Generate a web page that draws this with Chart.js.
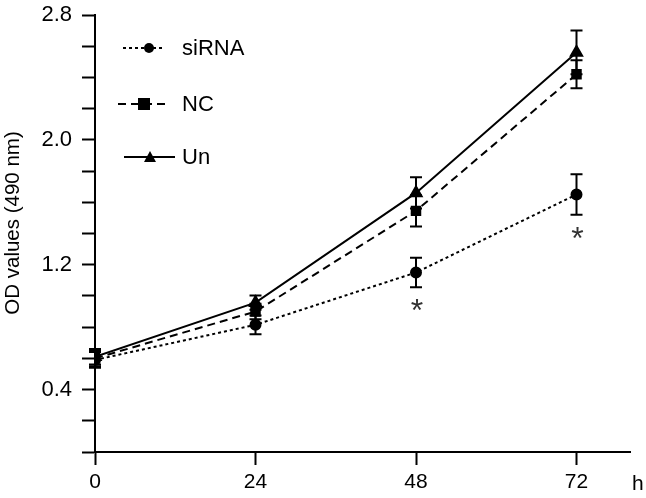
<!DOCTYPE html>
<html>
<head>
<meta charset="utf-8">
<script src="https://cdn.jsdelivr.net/npm/chart.js@4.4.1/dist/chart.umd.min.js"></script>
<style>
  html, body { margin: 0; padding: 0; background: #fff; }
  #wrap { width: 646px; height: 498px; }
</style>
</head>
<body>
<div id="wrap"><canvas id="myChart" width="646" height="498"></canvas></div>
<script>
// data
var hours = [0, 24, 48, 72];
var sirna = [0.59, 0.815, 1.15, 1.65];
var sirnaErr = [0.05, 0.06, 0.095, 0.13];
var nc = [0.60, 0.90, 1.545, 2.42];
var ncErr = [0.05, 0.05, 0.10, 0.09];
var un = [0.61, 0.957, 1.66, 2.56];
var unErr = [0.05, 0.045, 0.10, 0.14];
var yLabels = [0.4, 1.2, 2.0, 2.8];
var starHours = [48, 72];

function pts(vals) {
    var out = [];
    for (var i = 0; i < hours.length; i++) {
        out.push({x: hours[i], y: vals[i]});
    }
    return out;
}

var FONT = 'Liberation Sans, Arial, sans-serif';

// error bars, legend, asterisks, axis title, "h"
var extras = {
    id: 'extras',
    afterDatasetsDraw: function(chart) {
        var ctx = chart.ctx;
        var xs = chart.scales.x, ys = chart.scales.y;
        ctx.save();
        ctx.strokeStyle = '#000';
        ctx.lineWidth = 2;
        ctx.setLineDash([]);
        var errs = [sirnaErr, ncErr, unErr];
        chart.data.datasets.forEach(function(ds, d) {
            for (var i = 0; i < hours.length; i++) {
                var px = xs.getPixelForValue(hours[i]);
                var top = ys.getPixelForValue(ds.data[i].y + errs[d][i]);
                var bot = ys.getPixelForValue(ds.data[i].y - errs[d][i]);
                ctx.beginPath();
                ctx.moveTo(px, top); ctx.lineTo(px, bot);
                ctx.moveTo(px - 6, top); ctx.lineTo(px + 6, top);
                ctx.moveTo(px - 6, bot); ctx.lineTo(px + 6, bot);
                ctx.stroke();
            }
        });

        // asterisks under siRNA
        ctx.fillStyle = '#333';
        ctx.font = '32px ' + FONT;
        ctx.textAlign = 'center';
        ctx.textBaseline = 'middle';
        starHours.forEach(function(h) {
            var i = hours.indexOf(h);
            var px = xs.getPixelForValue(h);
            var bot = ys.getPixelForValue(sirna[i] - sirnaErr[i]);
            ctx.fillText('*', px + 1, bot + 25);
        });

        // legend
        var items = [
            {label: 'siRNA', dash: [3, 3], shape: 'circle', y: 48, x0: 123, x1: 165, mx: 149},
            {label: 'NC', dash: [8, 5], shape: 'rect', y: 104, x0: 118, x1: 170, mx: 144},
            {label: 'Un', dash: [], shape: 'triangle', y: 157, x0: 124, x1: 175, mx: 150}
        ];
        ctx.fillStyle = '#000';
        ctx.font = '22px ' + FONT;
        ctx.textAlign = 'left';
        items.forEach(function(it) {
            ctx.setLineDash(it.dash);
            ctx.beginPath();
            ctx.moveTo(it.x0, it.y); ctx.lineTo(it.x1, it.y);
            ctx.stroke();
            ctx.setLineDash([]);
            ctx.beginPath();
            if (it.shape === 'circle') {
                ctx.arc(it.mx, it.y, 5, 0, Math.PI * 2);
            } else if (it.shape === 'rect') {
                ctx.rect(it.mx - 6, it.y - 6, 12, 12);
            } else {
                ctx.moveTo(it.mx, it.y - 6);
                ctx.lineTo(it.mx + 6, it.y + 5);
                ctx.lineTo(it.mx - 6, it.y + 5);
                ctx.closePath();
            }
            ctx.fill();
            ctx.fillText(it.label, 182, it.y + 1);
        });

        // y axis title
        ctx.save();
        ctx.translate(13, 223);
        ctx.rotate(-Math.PI / 2);
        ctx.textAlign = 'center';
        ctx.font = '20.5px ' + FONT;
        ctx.fillText('OD values (490 nm)', 0, 0);
        ctx.restore();

        // unit on x axis
        ctx.font = '21px ' + FONT;
        ctx.fillText('h', 632, 484);
        ctx.restore();
    }
};

new Chart(document.getElementById('myChart'), {
    type: 'line',
    data: {
        datasets: [
            {label: 'siRNA', data: pts(sirna), borderColor: '#000', backgroundColor: '#000',
             borderWidth: 2, borderDash: [3, 3], pointStyle: 'circle', pointRadius: 5},
            {label: 'NC', data: pts(nc), borderColor: '#000', backgroundColor: '#000',
             borderWidth: 2, borderDash: [8, 5], pointStyle: 'rect', pointRadius: 6},
            {label: 'Un', data: pts(un), borderColor: '#000', backgroundColor: '#000',
             borderWidth: 2, pointStyle: 'triangle', pointRadius: 6.5}
        ]
    },
    options: {
        responsive: false,
        animation: false,
        layout: {padding: {top: 15, right: 16, left: 0, bottom: 0}},
        plugins: {legend: {display: false}, tooltip: {enabled: false}},
        scales: {
            x: {
                type: 'linear',
                min: 0,
                max: 80,
                afterBuildTicks: function(scale) {
                    scale.ticks = hours.map(function(h) { return {value: h}; });
                },
                afterFit: function(scale) { scale.height = 46; },
                grid: {drawOnChartArea: false, tickLength: 13, tickColor: '#000', tickWidth: 2},
                border: {color: '#000', width: 2},
                ticks: {color: '#000', font: {size: 21, family: FONT}, padding: 5, maxRotation: 0}
            },
            y: {
                min: 0,
                max: 2.8,
                afterBuildTicks: function(scale) {
                    var t = [];
                    for (var i = 0; i <= 14; i++) t.push({value: Math.round(i * 2) / 10});
                    scale.ticks = t;
                },
                afterFit: function(scale) {
                    scale.width = 95;
                    scale.paddingTop = 0;
                    scale.paddingBottom = 0;
                },
                grid: {drawOnChartArea: false, tickLength: 13, tickColor: '#000', tickWidth: 2},
                border: {color: '#000', width: 2},
                ticks: {
                    color: '#000', font: {size: 22, family: FONT}, padding: 10,
                    callback: function(v) {
                        for (var i = 0; i < yLabels.length; i++) {
                            if (Math.abs(yLabels[i] - v) < 1e-6) return yLabels[i].toFixed(1);
                        }
                        return '';
                    }
                }
            }
        }
    },
    plugins: [extras]
});
</script>
</body>
</html>
